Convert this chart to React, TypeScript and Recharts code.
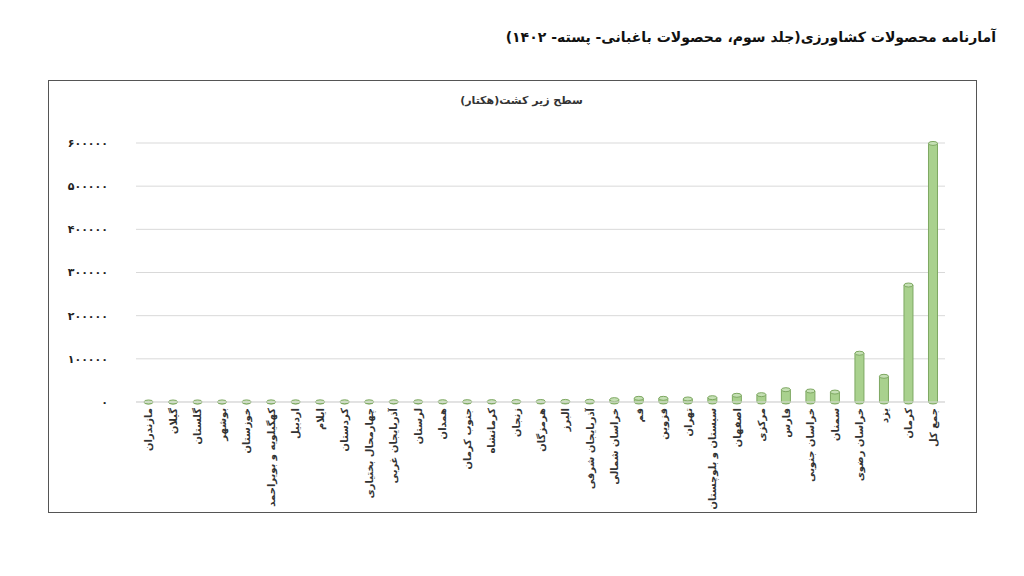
import { Bar, BarChart, CartesianGrid, XAxis, YAxis } from "recharts";

const provinces = [
  "مازندران",
  "گیلان",
  "گلستان",
  "بوشهر",
  "خوزستان",
  "کهگیلویه و بویراحمد",
  "اردبیل",
  "ایلام",
  "کردستان",
  "چهارمحال بختیاری",
  "آذربایجان غربی",
  "لرستان",
  "همدان",
  "جنوب کرمان",
  "کرمانشاه",
  "زنجان",
  "هرمزگان",
  "البرز",
  "آذربایجان شرقی",
  "خراسان شمالی",
  "قم",
  "قزوین",
  "تهران",
  "سیستان و بلوچستان",
  "اصفهان",
  "مرکزی",
  "فارس",
  "خراسان جنوبی",
  "سمنان",
  "خراسان رضوی",
  "یزد",
  "کرمان",
  "جمع کل",
];

// سطح زیر کشت (هکتار)
const area = [
  40, 60, 150, 200, 250, 300, 350, 400, 450, 500, 600, 650, 700, 800, 900, 1000,
  1200, 1400, 1800, 5500, 8500, 8500, 7000, 10000, 15500, 17000, 28500, 25500,
  23000, 113000, 59500, 271000, 599000,
];

const yTicks = [0, 100000, 200000, 300000, 400000, 500000, 600000];

const data = provinces.map((name, i) => ({ name, area: area[i] }));

const FONT = "'DejaVu Sans', sans-serif";

const toFa = (v: number | string) =>
  String(v).replace(/[0-9]/g, (d) => "۰۱۲۳۴۵۶۷۸۹"[Number(d)]);

function Cylinder(props: any) {
  const { x, y, width, height } = props;
  const rx = width / 2;
  const ry = 2;
  const cx = x + rx;
  const bottom = y + height;
  return (
    <g>
      <path
        d={`M${x},${y} L${x},${bottom} A${rx},${ry} 0 0 0 ${x + width},${bottom} L${x + width},${y} Z`}
        fill="#a9d18e"
        stroke="#7ea862"
        strokeWidth={1}
      />
      <ellipse cx={cx} cy={y} rx={rx} ry={ry} fill="#c5e0b4" stroke="#7ea862" strokeWidth={1} />
    </g>
  );
}

function XTick(props: any) {
  const { x, y, payload } = props;
  return (
    <text
      x={x}
      y={y}
      transform={`rotate(-90 ${x} ${y})`}
      dy={4}
      textAnchor="end"
      fontFamily={FONT}
      fontWeight="bold"
      fontSize={10}
      fill="#333"
    >
      {payload.value}
    </text>
  );
}

export default function App() {
  return (
    <div style={{ position: "absolute", left: 0, top: 0, width: 1024, height: 576, background: "#fff" }}>
      <div
        style={{
          position: "absolute",
          right: 28,
          top: 29,
          direction: "rtl",
          fontFamily: FONT,
          fontWeight: "bold",
          fontSize: 14,
          color: "#111",
          whiteSpace: "nowrap",
        }}
      >
        آمارنامه محصولات کشاورزی(جلد سوم، محصولات باغبانی- پسته- ۱۴۰۲)
      </div>
      <div
        style={{
          position: "absolute",
          left: 48,
          top: 80,
          width: 929,
          height: 433,
          border: "1px solid #555",
          boxSizing: "border-box",
        }}
      >
        <div
          style={{
            position: "absolute",
            left: 0,
            width: 945,
            top: 13,
            textAlign: "center",
            direction: "rtl",
            fontFamily: FONT,
            fontWeight: "bold",
            fontSize: 11,
            color: "#333",
          }}
        >
          سطح زیر کشت(هکتار)
        </div>
        <BarChart
          width={927}
          height={431}
          data={data}
          margin={{ top: 62, right: 31, left: 0, bottom: 0 }}
          barSize={9}
        >
          <CartesianGrid vertical={false} stroke="#d9d9d9" />
          <XAxis
            dataKey="name"
            interval={0}
            height={110}
            tickLine={false}
            axisLine={{ stroke: "#d9d9d9" }}
            tick={<XTick />}
            tickMargin={0}
          />
          <YAxis
            width={87}
            domain={[0, 600000]}
            ticks={yTicks}
            tickLine={false}
            axisLine={false}
            tickMargin={22}
            tickFormatter={toFa}
            tick={{ fontFamily: FONT, fontWeight: "bold", fontSize: 11, fill: "#222" }}
          />
          <Bar dataKey="area" shape={<Cylinder />} isAnimationActive={false} />
        </BarChart>
      </div>
    </div>
  );
}
